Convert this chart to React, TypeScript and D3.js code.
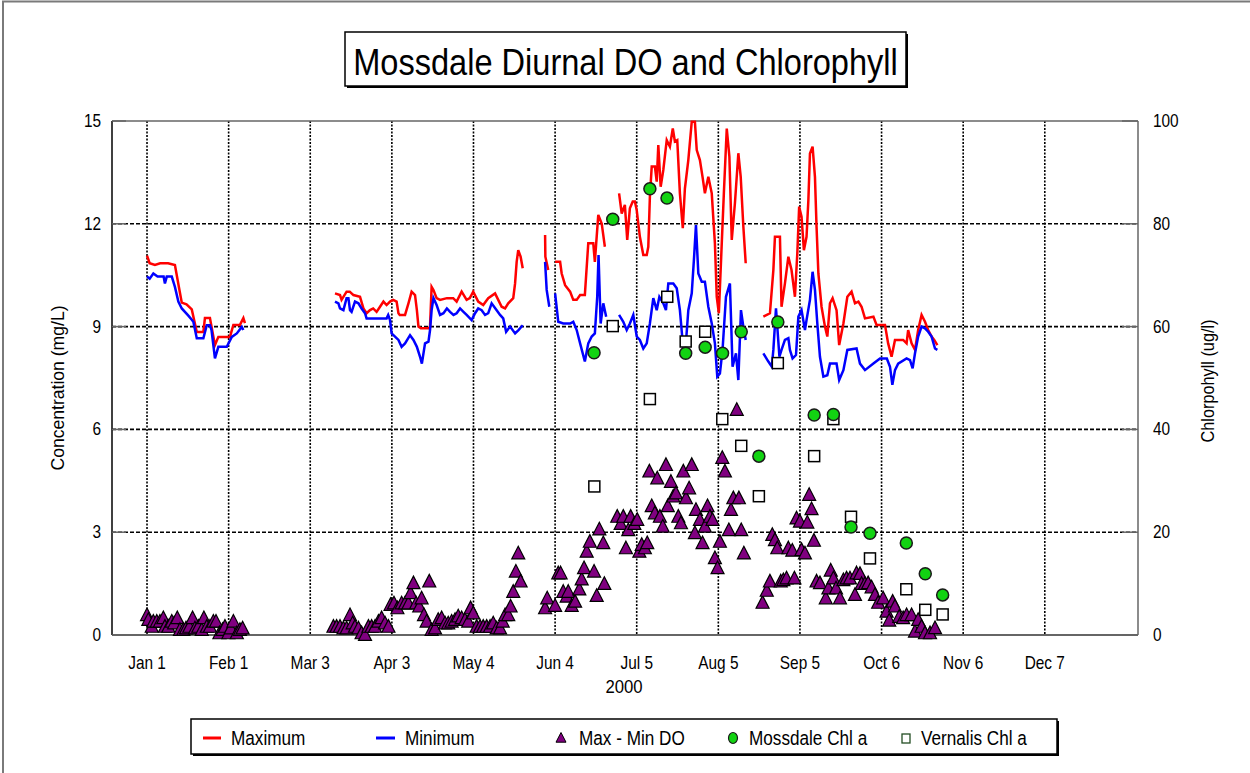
import React from 'react';
import * as d3 from 'd3';

type Pt = [number, number] | null;

const monthTicks = [0, 31, 62, 93, 124, 155, 186, 217, 248, 279, 310, 341];
const monthLabels = ['Jan 1', 'Feb 1', 'Mar 3', 'Apr 3', 'May 4', 'Jun 4', 'Jul 5', 'Aug 5', 'Sep 5', 'Oct 6', 'Nov 6', 'Dec 7'];
const doTicks = [0, 3, 6, 9, 12, 15];
const chlTicks = [0, 20, 40, 60, 80, 100];
const gridDO = [3, 6, 9, 12];

const maximumDO: Pt[] = [
  [0, 11.07], [1, 10.85], [3, 10.8], [5, 10.85], [8, 10.85], [10.6, 10.8], [12, 10.2], [13.2, 9.7], [15, 9.65], [17, 9.5], [18.9, 8.84], [21.4, 8.84], [22, 9.25], [23.9, 9.25], [25.8, 8.46], [27.1, 8.7], [31.5, 8.7], [32.8, 9.05], [35.3, 9.05], [36.6, 9.25], [37.2, 9.1], null,
  [71.4, 9.97], [73.3, 9.92], [73.9, 9.78], [75.8, 10.02], [77, 10.02], [78.4, 9.92], [80.9, 9.87], [82.2, 9.53], [83.4, 9.39], [84.7, 9.48], [85.9, 9.53], [87.2, 9.43], [88.5, 9.58], [89.8, 9.73], [91, 9.63], [92.3, 9.73], [93.5, 9.78], [94.8, 9.73], [95.5, 9.39], [96, 9.34], [98, 9.34], [99.3, 9.68], [100.5, 10.02], [101.8, 9.92], [102.5, 9.48], [103.1, 9.0], [104, 8.95], [106.9, 8.95], [107.5, 9.0], [108.1, 10.16], [108.8, 10.07], [110, 9.83], [111.3, 9.78], [113.9, 9.83], [116.3, 9.83], [117.6, 9.73], [119.5, 10.02], [121.4, 9.78], [122.6, 9.83], [123.9, 10.02], [125.8, 9.73], [127.7, 9.63], [129.6, 9.83], [132.2, 9.97], [133.4, 9.78], [134.7, 9.58], [136, 9.53], [137.2, 9.68], [139.1, 9.83], [139.8, 10.26], [140.4, 10.89], [141, 11.23], [141.9, 11.04], [142.7, 10.7], null,
  [151.2, 11.67], [151.3, 11.04], [152.4, 10.65], null,
  [155.0, 10.89], [156.9, 10.89], [157.5, 10.55], [158.8, 10.21], [160.7, 10.02], [161.9, 9.78], [163.2, 9.78], [164.5, 9.92], [166.3, 9.92], [167.6, 11.43], [169.5, 11.43], [170.1, 10.89], [171.4, 12.26], [172.7, 12.01], [173.9, 11.33], null,
  [179.3, 12.89], [180.3, 12.30], [181.5, 12.55], [182.4, 11.53], [183.4, 12.45], [184.5, 12.65], [185.3, 12.65], [186.0, 12.40], [187.2, 11.62], [188.5, 11.09], [189.8, 11.09], [190.4, 11.33], [191.0, 12.79], [191.7, 13.67], [192.9, 13.67], [193.6, 13.23], [194.2, 14.30], [195.1, 13.08], [196.1, 13.57], [197.4, 14.44], [198.6, 14.25], [199.7, 14.78], [200.5, 14.40], [201.4, 14.44], [202.4, 12.89], [203.5, 11.87], [204.3, 13.03], [205.6, 13.86], [206.9, 14.98], [208.1, 14.98], [208.8, 14.15], [210.0, 13.86], [211.0, 13.37], [211.9, 12.89], [213.2, 13.37], [214.5, 12.89], [215.7, 11.43], [216.4, 9.87], [217.2, 9.39], [218.3, 11.43], [219.1, 12.89], [220.2, 14.78], [221.2, 13.96], [222.1, 11.53], [223.3, 12.60], [224.6, 14.06], [225.5, 13.37], [226.5, 11.92], [227.4, 10.85], null,
  [234.1, 9.29], [236.6, 9.39], [237.9, 10.65], [238.5, 11.62], [240.4, 11.62], [241.0, 9.58], [242.3, 10.26], [243.6, 11.04], [244.8, 10.65], [246.1, 9.87], [247.0, 11.14], [247.7, 12.50], [248.6, 12.21], [249.5, 11.23], [250.5, 11.62], [251.2, 12.69], [251.8, 14.05], [252.8, 14.25], [253.7, 13.37], [254.3, 11.92], [255.0, 10.55], [256.2, 9.58], [257.5, 9.0], [258.4, 8.71], [259.4, 9.68], [260.4, 9.83], [261.9, 9.48], [262.9, 8.46], [264.5, 9.09], [266.0, 9.87], [267.6, 10.02], [268.9, 9.68], [270.2, 9.73], [271.4, 9.58], [272.7, 9.24], [275.9, 9.29], [277.1, 9.05], [280.3, 9.05], [281.5, 8.51], [282.8, 8.12], [284.1, 8.61], [285.3, 8.61], [287.2, 8.61], [288.5, 8.51], [289.1, 8.90], [290.4, 8.51], [291.7, 8.32], [292.9, 8.90], [294.2, 9.34], [295.5, 9.14], [296.7, 8.90], [298.0, 8.71], [299.0, 8.61], [300.2, 8.46],
];

const minimumDO: Pt[] = [
  [0, 10.46], [1, 10.4], [2.4, 10.55], [4, 10.46], [6.3, 10.46], [6.8, 10.26], [7.5, 10.46], [9.4, 10.46], [10.6, 10.16], [11.9, 9.73], [13.2, 9.53], [15.7, 9.32], [17, 9.2], [17.6, 9.14], [18.9, 8.66], [21.4, 8.66], [22.7, 9.04], [23.9, 9.04], [24.5, 8.9], [25.8, 8.07], [27.1, 8.41], [30.3, 8.41], [32.2, 8.7], [34.1, 8.8], [36, 8.99], [36.6, 8.9], null,
  [71.4, 9.73], [72.7, 9.68], [73.3, 9.53], [74.6, 9.48], [75.8, 9.83], [76.5, 9.83], [77.1, 9.48], [77.7, 9.43], [79, 9.73], [80.3, 9.68], [81.5, 9.53], [82.8, 9.39], [83.4, 9.24], [91, 9.24], [91.6, 9.34], [92.3, 9.19], [92.9, 8.8], [94.2, 8.71], [95.5, 8.61], [96.7, 8.41], [98, 8.51], [99.9, 8.75], [101.2, 8.61], [102.5, 8.41], [103.7, 8.12], [104.4, 7.92], [105.6, 8.51], [106.9, 8.56], [107.5, 8.9], [108.1, 9.48], [108.8, 9.83], [110, 9.63], [111.3, 9.34], [112.6, 9.39], [113.9, 9.53], [115.1, 9.43], [116.4, 9.34], [117.6, 9.39], [118.9, 9.53], [120.2, 9.43], [121.4, 9.34], [123.3, 9.19], [124.6, 9.39], [125.8, 9.53], [127.1, 9.48], [128.4, 9.34], [129.6, 9.39], [130.9, 9.68], [132.8, 9.48], [134.1, 9.34], [135.3, 9.24], [136.4, 8.85], [137.9, 9.0], [139.8, 8.8], [141.1, 8.9], [142.7, 9.04], null,
  [151.2, 10.89], [151.8, 10.07], [152.8, 9.58], null,
  [155.0, 9.97], [156.2, 9.14], [158.1, 9.09], [160.7, 9.09], [161.9, 9.14], [163.2, 8.90], [164.5, 8.51], [166.3, 7.98], [167.6, 8.51], [168.9, 8.71], [170.1, 8.80], [171.0, 9.87], [171.5, 11.09], [172.3, 9.09], [173.3, 9.68], [174.4, 9.29], null,
  [179.3, 9.34], [180.9, 9.14], [182.2, 8.90], [183.4, 9.09], [184.7, 9.34], [186.0, 8.71], [187.2, 8.61], [188.5, 8.36], [189.8, 8.51], [191.0, 9.09], [192.3, 9.83], [193.6, 9.48], [194.6, 9.87], [196.1, 9.68], [197.1, 9.48], [198.0, 10.26], [199.9, 10.26], [201.2, 10.12], [202.4, 9.48], [203.5, 8.51], [204.3, 8.12], [205.6, 9.48], [206.9, 9.97], [207.8, 11.04], [208.5, 11.96], [209.4, 10.55], [210.7, 10.31], [211.9, 10.31], [213.2, 9.58], [214.5, 9.09], [215.7, 8.51], [216.6, 7.54], [217.6, 7.63], [218.6, 8.32], [219.9, 9.87], [221.4, 10.26], [222.4, 7.83], [223.7, 8.22], [224.6, 7.44], [225.6, 9.48], [226.5, 9.0], [227.4, 8.61], null,
  [234.1, 8.22], [236.0, 7.98], [237.3, 7.83], [237.9, 8.32], [238.9, 9.53], [240.2, 8.12], [241.0, 8.32], [242.3, 8.61], [243.6, 8.66], [244.2, 8.32], [245.2, 8.07], [246.5, 8.17], [247.4, 9.29], [248.6, 9.48], [249.9, 8.90], [250.5, 9.19], [251.8, 9.78], [252.8, 10.60], [253.7, 10.07], [254.6, 9.09], [255.6, 8.12], [256.9, 7.54], [258.4, 7.58], [259.4, 7.92], [261.9, 7.92], [262.9, 7.44], [264.5, 7.73], [266.0, 8.32], [269.5, 8.36], [270.8, 7.92], [272.7, 7.73], [275.9, 7.92], [278.4, 8.07], [281.0, 8.07], [282.2, 7.83], [283.1, 7.30], [284.1, 7.73], [285.3, 7.92], [288.5, 8.07], [289.8, 8.02], [290.8, 7.78], [291.7, 8.22], [292.9, 8.71], [294.2, 9.0], [295.5, 8.95], [296.7, 8.85], [298.0, 8.71], [299.3, 8.36], [300.2, 8.32],
];

const maxMinDO: [number, number][] = [
  [0, 0.58], [0.5, 0.44], [1.8, 0.24], [2.4, 0.39], [3.7, 0.39], [4.9, 0.39], [6.2, 0.49], [6.8, 0.24], [8.1, 0.24], [9.4, 0.39], [10.3, 0.34], [11.5, 0.49], [12.5, 0.15], [13.8, 0.15], [14.8, 0.19], [16.1, 0.24], [17.3, 0.49], [18.2, 0.19], [19.5, 0.24], [20.8, 0.15], [21.6, 0.49], [22.7, 0.24], [23.9, 0.24], [25.2, 0.39], [26.2, 0.39], [27.5, 0.05], [28.7, 0.15], [29.6, 0.24], [30.9, 0.05], [31.8, 0.19], [32.8, 0.39], [34.1, 0.05], [35.3, 0.15], [36.3, 0.19],
  [70.8, 0.24], [72.0, 0.24], [73.3, 0.24], [74.6, 0.19], [75.8, 0.19], [77.1, 0.58], [78.1, 0.34], [79.0, 0.24], [80.3, 0.19], [81.5, 0.05], [82.8, 0.0], [84.1, 0.24], [85.3, 0.24], [86.6, 0.24], [87.9, 0.39], [89.1, 0.49], [90.4, 0.34], [91.7, 0.24], [92.5, 0.88], [93.8, 0.92], [95.1, 0.78], [96.7, 0.92], [98.0, 0.92], [99.3, 0.92], [100.1, 1.22], [101.2, 1.51], [102.2, 0.92], [103.4, 0.83], [104.3, 1.07], [105.2, 0.58], [106.2, 0.39], [107.2, 1.56], [108.1, 0.15], [109.4, 0.19], [110.6, 0.44], [111.9, 0.49], [113.2, 0.34], [114.4, 0.34], [115.7, 0.39], [117.0, 0.44], [118.2, 0.54], [119.5, 0.49], [120.8, 0.44], [122.0, 0.39], [122.9, 0.78], [123.9, 0.63], [125.2, 0.24], [126.5, 0.24], [127.7, 0.24], [129.0, 0.24], [130.3, 0.24], [131.5, 0.34], [132.8, 0.19], [134.1, 0.19], [135.1, 0.39], [136.0, 0.58], [137.2, 0.58], [138.1, 0.83], [139.1, 1.26], [140.1, 1.85], [141.0, 2.38], [141.9, 1.56],
  [151.2, 0.78], [152.0, 1.07], [155.0, 0.85], [156.2, 1.80], [157.1, 1.80], [158.1, 1.26], [159.4, 1.12], [160.0, 1.26], [161.3, 0.85], [162.6, 0.97], [164.2, 1.33], [165.1, 1.62], [166.0, 1.95], [167.0, 2.43], [168.2, 2.72], [169.8, 1.85], [170.8, 1.14], [171.8, 3.08], [173.3, 2.68], [173.7, 1.49], [178.6, 3.45], [179.9, 3.24], [180.9, 3.45], [181.9, 2.53], [182.8, 3.06], [183.7, 3.45], [185.1, 3.24], [186.2, 3.36], [187.0, 2.43], [187.9, 2.63], [189.1, 2.53], [190.0, 2.68], [190.8, 4.77], [191.7, 3.76], [192.9, 3.55], [193.8, 4.57], [194.8, 3.45], [195.9, 3.16], [197.1, 4.96], [197.8, 3.76], [199.0, 4.47], [199.9, 4.04], [200.9, 4.13], [201.8, 3.45], [202.8, 3.26], [203.7, 4.77], [204.7, 3.99], [205.9, 4.28], [206.9, 4.96], [208.1, 2.97], [208.5, 3.65], [210.0, 3.36], [211.0, 2.68], [211.9, 3.16], [212.9, 3.76], [213.8, 3.45], [214.8, 3.36], [215.7, 2.24], [216.7, 1.95], [217.6, 2.72], [218.5, 5.17], [219.5, 4.77], [221.0, 3.06], [221.8, 3.65], [222.7, 3.99], [224.0, 6.57], [224.8, 3.99], [225.7, 3.06], [226.7, 2.38],
  [233.8, 0.94], [235.4, 1.29], [236.6, 1.56], [237.5, 2.92], [238.5, 2.77], [239.4, 2.53], [240.7, 1.56], [241.7, 1.60], [242.9, 1.65], [243.6, 2.53], [245.1, 2.46], [245.9, 1.65], [246.7, 3.40], [248.0, 3.31], [248.6, 2.48], [249.9, 2.38], [250.8, 3.28], [251.5, 4.09], [252.4, 3.67], [253.3, 2.75], [254.3, 1.56], [255.6, 1.51], [257.8, 1.07], [258.8, 1.36], [259.7, 1.88], [260.7, 1.65], [261.7, 1.36], [263.2, 1.07], [264.5, 1.60], [265.7, 1.65], [267.0, 1.65], [268.9, 1.17], [269.5, 1.80], [270.8, 1.78], [271.4, 1.49], [272.7, 1.49], [273.9, 1.51], [275.2, 1.39], [276.5, 1.17], [277.7, 0.94], [279.6, 1.07], [280.9, 0.68], [281.9, 0.42], [283.2, 0.97], [284.1, 0.83], [285.7, 0.53], [287.2, 0.49], [288.5, 0.58], [290.4, 0.58], [291.7, 0.10], [292.9, 0.44], [294.2, 0.24], [295.5, 0.05], [297.4, 0.05], [299.3, 0.20],
];

const mossdaleDays = [169.8, 176.9, 191.0, 197.5, 204.6, 212.0, 218.6, 225.7, 232.4, 239.6, 253.4, 260.7, 267.4, 274.6, 288.4, 295.6, 302.2];
const mossdaleChl = [54.9, 80.9, 86.8, 85.0, 54.8, 56.0, 54.8, 59.0, 34.8, 60.9, 42.8, 42.9, 21.0, 19.8, 17.9, 11.9, 7.8];
const vernalisDays = [169.9, 176.9, 191.0, 197.6, 204.6, 212.0, 218.5, 225.7, 232.4, 239.6, 253.4, 260.7, 267.4, 274.6, 288.4, 295.6, 302.2];
const vernalisChl = [28.9, 60.1, 45.9, 65.8, 57.1, 59.0, 42.0, 36.8, 27.0, 52.9, 34.8, 42.0, 23.0, 14.9, 8.9, 4.9, 4.0];

const legendLabels = ['Maximum', 'Minimum', 'Max - Min DO', 'Mossdale Chl a', 'Vernalis Chl a'];

const W = 1250, H = 773;
const PL = 112, PR = 1138, PT = 121, PB = 635;
const FONT = "'Liberation Sans', Arial, Helvetica, sans-serif";
const SX = 0.88;
const PURPLE = '#800080';
const GREEN = '#12d312';

function NText(props: { x: number; y: number; anchor?: string; size: number; rotate?: boolean; children: React.ReactNode }) {
  const { x, y, anchor = 'start', size, rotate, children } = props;
  return (
    <text
      transform={`translate(${x},${y})${rotate ? ' rotate(-90)' : ''} scale(${SX},1)`}
      textAnchor={anchor}
      fontSize={size}
      fontFamily={FONT}
      fill="#000"
    >
      {children}
    </text>
  );
}

const triPath = (s: number) => `M0,${-s * 0.55} L${s * 0.5},${s * 0.42} L${-s * 0.5},${s * 0.42} Z`;

export default function App() {
  const x = d3.scaleLinear().domain([-13.3, 376.4]).range([PL, PR]);
  const yL = d3.scaleLinear().domain([0, 15]).range([PB, PT]);
  const yR = d3.scaleLinear().domain([0, 100]).range([PB, PT]);

  const line = d3
    .line<Pt>()
    .defined((d) => d !== null)
    .x((d) => x((d as [number, number])[0]))
    .y((d) => yL((d as [number, number])[1]));

  const legendY = 738;

  return (
    <div style={{ position: 'absolute', left: 0, top: 0 }}>
      <svg width={W} height={H} style={{ display: 'block', background: '#fff' }}>
        {/* outer frame */}
        <path d={`M3,${H} L3,1.5 L${W},1.5`} fill="none" stroke="#7a7a7a" strokeWidth={2} />

        {/* title */}
        <rect x={347} y={34} width={561} height={54} fill="#000" />
        <rect x={345} y={32} width={561} height={54} fill="#fff" stroke="#000" strokeWidth={1.5} />
        <NText x={625.5} y={75} anchor="middle" size={37}>Mossdale Diurnal DO and Chlorophyll</NText>

        {/* grid */}
        {gridDO.map((v) => (
          <line key={'h' + v} x1={PL} x2={PR} y1={yL(v)} y2={yL(v)} stroke="#000" strokeWidth={1.6} strokeDasharray="4,2" />
        ))}
        {monthTicks.map((d) => (
          <line key={'v' + d} x1={x(d)} x2={x(d)} y1={PT} y2={PB} stroke="#000" strokeWidth={1.6} strokeDasharray="2,1.5" />
        ))}

        {/* frame */}
        <line x1={PL} x2={PR} y1={PT} y2={PT} stroke="#666" strokeWidth={1.5} />
        <line x1={PR} x2={PR} y1={PT} y2={PB} stroke="#666" strokeWidth={1.5} />
        <line x1={PL} x2={PR} y1={PB} y2={PB} stroke="#666" strokeWidth={2} />
        <line x1={PL} x2={PL} y1={PT} y2={PB} stroke="#000" strokeWidth={1.5} />
        {doTicks.map((v) => (
          <line key={'lt' + v} x1={PL} x2={PL + 14} y1={yL(v)} y2={yL(v)} stroke="#666" strokeWidth={1.5} />
        ))}
        {chlTicks.map((v) => (
          <line key={'rt' + v} x1={PR - 16} x2={PR} y1={yR(v)} y2={yR(v)} stroke="#666" strokeWidth={1.5} />
        ))}

        {/* lines */}
        <path d={line(maximumDO) || ''} fill="none" stroke="#ff0000" strokeWidth={2.5} />
        <path d={line(minimumDO) || ''} fill="none" stroke="#0000ff" strokeWidth={2.5} />

        {/* triangles */}
        {maxMinDO.map((d, i) => (
          <path key={'t' + i} d={triPath(13)} transform={`translate(${x(d[0])},${yL(d[1])})`} fill={PURPLE} stroke="#000" strokeWidth={1.2} />
        ))}

        {/* vernalis squares */}
        {vernalisDays.map((d, i) => (
          <rect key={'s' + i} x={x(d) - 5.5} y={yR(vernalisChl[i]) - 5.5} width={11} height={11} fill="#fff" stroke="#000" strokeWidth={1.5} />
        ))}

        {/* mossdale circles */}
        {mossdaleDays.map((d, i) => (
          <circle key={'c' + i} cx={x(d)} cy={yR(mossdaleChl[i])} r={6} fill={GREEN} stroke="#1a1a1a" strokeWidth={1.5} />
        ))}

        {/* left ticks labels */}
        {doTicks.map((v) => (
          <NText key={'ll' + v} x={101} y={yL(v) + 6} anchor="end" size={17.5}>{String(v)}</NText>
        ))}
        {chlTicks.map((v) => (
          <NText key={'rl' + v} x={1153} y={yR(v) + 6} anchor="start" size={17.5}>{String(v)}</NText>
        ))}
        {monthTicks.map((d, i) => (
          <NText key={'xl' + d} x={x(d)} y={669} anchor="middle" size={17.5}>{monthLabels[i]}</NText>
        ))}
        <NText x={624} y={693} anchor="middle" size={19}>2000</NText>

        {/* axis titles */}
        <text transform="translate(64,388) rotate(-90)" textAnchor="middle" fontSize={18} fontFamily={FONT} textLength={165} lengthAdjust="spacingAndGlyphs">Concentration (mg/L)</text>
        <text transform="translate(1214,381) rotate(-90)" textAnchor="middle" fontSize={18} fontFamily={FONT} textLength={123} lengthAdjust="spacingAndGlyphs">Chlorpohyll (ug/l)</text>

        {/* legend */}
        <rect x={193} y={721} width={866} height={35} fill="#000" />
        <rect x={191} y={719} width={866} height={35} fill="#fff" stroke="#000" strokeWidth={1.5} />
        <line x1={203} x2={221} y1={legendY} y2={legendY} stroke="#ff0000" strokeWidth={3} />
        <NText x={231} y={legendY + 7} size={19.5}>{legendLabels[0]}</NText>
        <line x1={376} x2={395} y1={legendY} y2={legendY} stroke="#0000ff" strokeWidth={3} />
        <NText x={405} y={legendY + 7} size={19.5}>{legendLabels[1]}</NText>
        <path d={triPath(10)} transform={`translate(561,${legendY})`} fill={PURPLE} stroke="#000" strokeWidth={1} />
        <NText x={579} y={legendY + 7} size={19.5}>{legendLabels[2]}</NText>
        <ellipse cx={733} cy={legendY} rx={4.5} ry={5.5} fill={GREEN} stroke="#1a1a1a" strokeWidth={1.2} />
        <NText x={749} y={legendY + 7} size={19.5}>{legendLabels[3]}</NText>
        <rect x={902} y={734} width={8} height={9} fill="#fff" stroke="#234d23" strokeWidth={1.3} />
        <NText x={921} y={legendY + 7} size={19.5}>{legendLabels[4]}</NText>
      </svg>
    </div>
  );
}
